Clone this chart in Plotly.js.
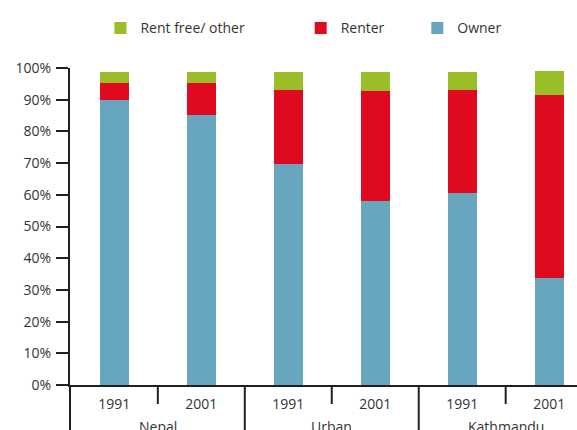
<!DOCTYPE html>
<html>
<head>
<meta charset="utf-8">
<script src="https://cdn.plot.ly/plotly-3.0.1.min.js"></script>
<style>html,body{margin:0;padding:0;background:#fff;}#chart{width:577px;height:430px;}</style>
</head>
<body>
<div id="chart"></div>
<script>
var groups = ['Nepal','Nepal','Urban','Urban','Kathmandu','Kathmandu'];
var years = ['1991','2001','1991','2001','1991','2001'];
var owner = [89.9, 85.2, 69.8, 58.2, 60.7, 33.7];
var renter = [5.4, 10.1, 23.3, 34.6, 32.4, 57.8];
var rentFree = [3.4, 3.4, 5.6, 5.9, 5.6, 7.5];
var yTicks = [0,10,20,30,40,50,60,70,80,90,100];
var yTickText = ['0%','10%','20%','30%','40%','50%','60%','70%','80%','90%','100%'];

var font = "'Open Sans', sans-serif";
var axisColor = '#231f20';
var idx = years.map(function(_, i){ return i; });

var traces = [
  {type:'bar', name:'Owner', x:idx, y:owner, marker:{color:'#67a6be'}, legend:'legend3'},
  {type:'bar', name:'Renter', x:idx, y:renter, marker:{color:'#e00a20'}, legend:'legend2'},
  {type:'bar', name:'Rent free/ other', x:idx, y:rentFree, marker:{color:'#99be27'}, legend:'legend'}
];

// separators and group labels derived from the category arrays
var shapes = [{type:'line', xref:'paper', yref:'paper', x0:0, x1:0, y0:0, y1:-0.16,
  line:{color:axisColor, width:2}}];
var annotations = [];
var start = 0;
for (var i = 0; i < groups.length; i++) {
  var last = (i === groups.length - 1) || groups[i] !== groups[i+1];
  if (i < groups.length - 1) {
    shapes.push({type:'line', xref:'x', yref:'paper', x0:i+0.5, x1:i+0.5,
      y0:0, y1: last ? -0.16 : -0.06, line:{color:axisColor, width:2}});
  }
  if (last) {
    annotations.push({xref:'x', yref:'paper', x:(start+i)/2, y:-0.095, yanchor:'top',
      xanchor:'center', showarrow:false, text:groups[i],
      font:{family:font, size:14, color:'#333'}});
    start = i + 1;
  }
}

function leg(x){
  return {orientation:'h', x:x, y:1.125, xanchor:'left', yanchor:'middle',
    font:{family:font, size:14, color:'#333'}, bgcolor:'rgba(0,0,0,0)'};
}

var layout = {
  width:577, height:430,
  margin:{l:70, r:0, t:68, b:45},
  paper_bgcolor:'#fff', plot_bgcolor:'#fff',
  barmode:'stack', bargap:0.667,
  font:{family:font, size:14, color:'#333'},
  showlegend:true,
  legend: leg(0.06),
  legend2: leg(0.455),
  legend3: leg(0.685),
  shapes: shapes,
  annotations: annotations,
  xaxis:{
    range:[-0.51, 5.32], tickmode:'array', tickvals:idx, ticktext:years,
    showline:true, linecolor:axisColor, linewidth:2,
    ticks:'outside', ticklen:3, tickcolor:'rgba(0,0,0,0)',
    ticklabelstandoff:2,
    showgrid:false, zeroline:false,
    tickfont:{family:font, size:14, color:'#333'}
  },
  yaxis:{
    range:[0,100], tickmode:'array', tickvals:yTicks, ticktext:yTickText,
    showline:true, linecolor:axisColor, linewidth:2,
    ticks:'outside', ticklen:12, tickwidth:2, tickcolor:axisColor,
    ticklabelstandoff:2,
    showgrid:false, zeroline:false,
    tickfont:{family:font, size:14, color:'#333'}
  }
};

Plotly.newPlot('chart', traces, layout, {displayModeBar:false, staticPlot:true});
</script>
</body>
</html>
